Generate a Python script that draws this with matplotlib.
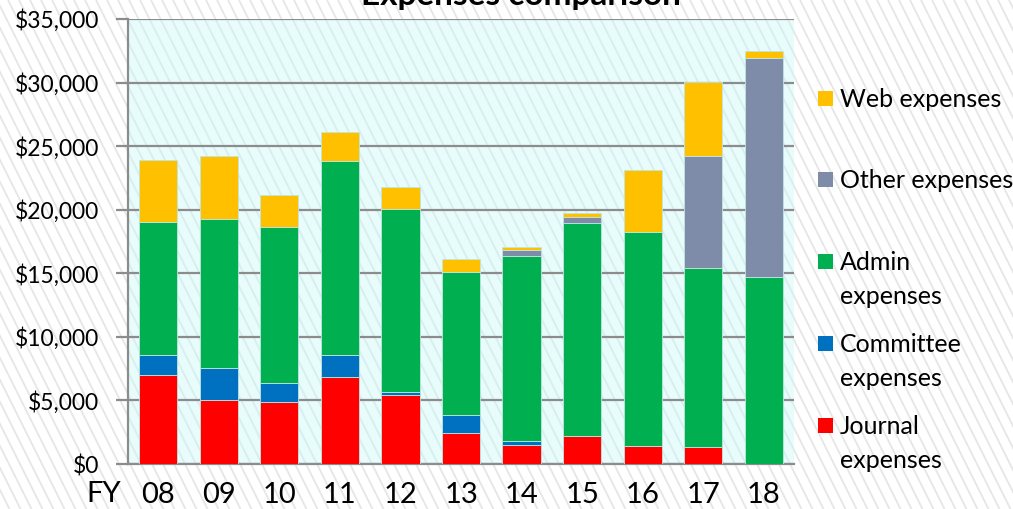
import matplotlib.pyplot as plt
from matplotlib.patches import Rectangle
from matplotlib.collections import LineCollection
from matplotlib.ticker import FuncFormatter

plt.rcParams['font.family'] = ['Lato', 'DejaVu Sans']

# data (US$)
years = ["08", "09", "10", "11", "12", "13", "14", "15", "16", "17", "18"]
journal = [7000, 5000, 4900, 6850, 5450, 2400, 1500, 2230, 1440, 1310, 0]
committee = [1550, 2530, 1470, 1700, 240, 1450, 310, 0, 0, 0, 0]
admin = [10490, 11750, 12300, 15320, 14370, 11280, 14580, 16760, 16790, 14090, 14690]
other = [0, 0, 0, 0, 0, 0, 450, 470, 0, 8860, 17280]
web = [4860, 4980, 2490, 2230, 1740, 970, 260, 320, 4900, 5770, 550]

series_names = ["Journal\nexpenses", "Committee\nexpenses", "Admin\nexpenses",
                "Other expenses", "Web expenses"]
series_colors = ["#FF0000", "#0070C0", "#00B050", "#7F8CA9", "#FFC000"]

W, H = 1013, 509
fig = plt.figure(figsize=(W / 100, H / 100), dpi=100)
fig.patch.set_facecolor("white")

# diagonal background texture (steep "\" lines, ~11 px apart)
segs = []
c = -H
while c < W + 20:
    segs.append([(c / W, 1.0), ((c + H / 2) / W, 0.0)])
    c += 11
fig.add_artist(LineCollection(segs, colors="#E6E6E6", linewidths=1.3,
                              transform=fig.transFigure, zorder=-5))

ax = fig.add_axes([128 / W, 1 - 464 / H, (794 - 128) / W, (464 - 19) / H])
ax.patch.set_facecolor("#E9FCFC")
ax.add_collection(LineCollection(segs, colors="#D6EEEE", linewidths=1.3,
                                 transform=fig.transFigure, zorder=0.5))

x = list(range(len(years)))
bottom = [0] * len(years)
for vals, col in zip([journal, committee, admin, other, web], series_colors):
    ax.bar(x, vals, bottom=bottom, width=0.63, color=col,
           edgecolor="#BFE6E0", linewidth=0.6, zorder=3)
    bottom = [b + v for b, v in zip(bottom, vals)]

ax.set_xlim(-0.5, len(years) - 0.5)
ax.set_ylim(0, 35000)
ax.set_yticks(range(0, 35001, 5000))
ax.yaxis.set_major_formatter(FuncFormatter(lambda v, p: "${:,.0f}".format(v)))
ax.set_xticks(x)
ax.set_xticklabels(years)
ax.grid(axis="y", color="#8C8C8C", linewidth=1.6, zorder=1)
ax.set_axisbelow(True)
for s in ["top", "right"]:
    ax.spines[s].set_visible(False)
for s in ["left", "bottom"]:
    ax.spines[s].set_color("#8C8C8C")
    ax.spines[s].set_linewidth(1.6)
ax.tick_params(axis="y", length=9, width=1.6, color="#8C8C8C", pad=12,
               labelsize=16.5, labelcolor="black")
ax.tick_params(axis="x", length=0, pad=13, labelsize=21, labelcolor="black")

fig.text(104 / W, 1 - 502 / H, "FY", fontsize=21, ha="center", va="baseline")
fig.text(521 / W, 1 - 5 / H, "Expenses comparison", fontsize=24,
         fontweight="bold", ha="center", va="baseline")

# legend drawn by hand (Excel-style spacing)
legend_base = [107, 188, 270, 352, 434]
for name, col, yb in zip(series_names[::-1], series_colors[::-1], legend_base):
    fig.patches.append(Rectangle((818 / W, 1 - (yb - 1) / H), 15 / W, 15 / H,
                                 transform=fig.transFigure, facecolor=col,
                                 edgecolor="none"))
    for i, line in enumerate(name.split("\n")):
        fig.text(840 / W, 1 - (yb + 34 * i) / H, line, fontsize=18,
                 ha="left", va="baseline")

fig.savefig("out.png", dpi=100)
